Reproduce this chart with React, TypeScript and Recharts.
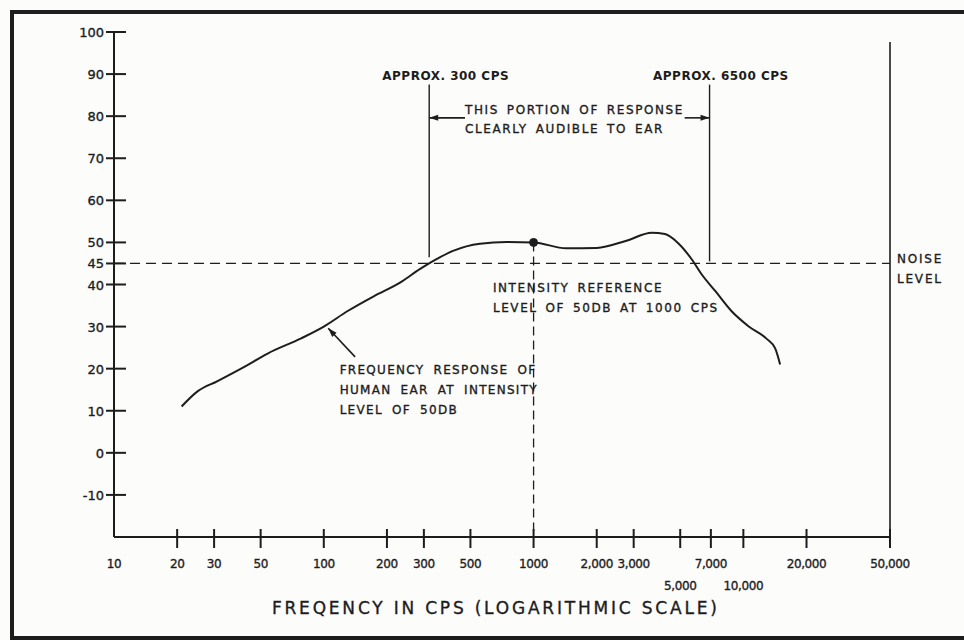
import { Line, LineChart, ReferenceDot, ReferenceLine, XAxis, YAxis } from "recharts";

// curve: frequency (cps) vs level (db)
const freqs = [21, 25, 31, 42, 54, 78, 100, 130, 173, 232, 288, 333, 413, 555, 745, 1000, 1430, 2000, 2770, 3660, 4230, 4920, 5670, 6310, 7360, 8770, 10570, 12850, 14180, 14970];
const levels = [11, 14.6, 17, 20.5, 23.6, 27.2, 30, 33.7, 37.2, 40.5, 43.7, 45.6, 48, 49.7, 50.1, 50, 48.6, 48.7, 50.4, 52.3, 52, 49.7, 46, 42.5, 38.4, 33.7, 30.1, 27.2, 24.8, 21];

const xTicks = [10, 20, 30, 50, 100, 200, 300, 500, 1000, 2000, 3000, 5000, 7000, 10000, 20000, 50000];
const xTickLabels = ["10", "20", "30", "50", "100", "200", "300", "500", "1000", "2,000", "3,000", "5,000", "7,000", "10,000", "20,000", "50,000"];
const lowerRowTicks = [5000, 10000];
const yTicks = [-10, 0, 10, 20, 30, 40, 45, 50, 60, 70, 80, 90, 100];

const NOISE_LEVEL = 45;
const REF_FREQ = 1000;
const REF_LEVEL = 50;
const AUDIBLE_LOW = 318;
const AUDIBLE_HIGH = 6900;

const data = freqs.map((f, i) => ({ freq: f, db: levels[i] }));

const INK = "#1d1d1d";
const FONT = "'DejaVu Sans', sans-serif";
// hand lettering is a bit heavier than the font, fake it with a thin stroke
const heavy = { stroke: INK, strokeWidth: 0.35 };

function XTick(props: any) {
  const { x, y, payload } = props;
  const v = payload.value as number;
  const label = xTickLabels[xTicks.indexOf(v)];
  const low = lowerRowTicks.includes(v);
  return (
    <g>
      {v !== 10 && <line x1={x} x2={x} y1={y - 8} y2={y + 11} stroke={INK} strokeWidth={2} />}
      <text x={x} y={y + (low ? 53 : 31)} textAnchor="middle" fontFamily={FONT} fontSize={12} fill={INK} letterSpacing={-0.4} {...heavy}>
        {label}
      </text>
    </g>
  );
}

function YTick(props: any) {
  const { x, y, payload } = props;
  return (
    <g>
      <line x1={x - 8} x2={x + 12} y1={y} y2={y} stroke={INK} strokeWidth={2} />
      <text x={x - 10} y={y + 5} textAnchor="end" fontFamily={FONT} fontSize={13} fill={INK} {...heavy}>
        {payload.value}
      </text>
    </g>
  );
}

function arrowShape(p: any) {
  const { x1, y1, x2, y2 } = p;
  const a = Math.atan2(y2 - y1, x2 - x1);
  const len = 9;
  const w = 3;
  const bx = x2 - len * Math.cos(a);
  const by = y2 - len * Math.sin(a);
  const nx = -Math.sin(a) * w;
  const ny = Math.cos(a) * w;
  return (
    <g>
      <line x1={x1} y1={y1} x2={x2} y2={y2} stroke={INK} strokeWidth={1.6} />
      <polygon points={`${x2},${y2} ${bx + nx},${by + ny} ${bx - nx},${by - ny}`} fill={INK} />
    </g>
  );
}

function note(lines: string[], opts: { dx?: number; gap?: number; size?: number; spacing?: number; words?: number; weight?: string } = {}) {
  const { dx = 0, gap = 20, size = 12, spacing = 1.6, words = 3, weight = "normal" } = opts;
  return (p: any) => (
    <text
      x={p.cx + dx}
      y={p.cy}
      fontFamily={FONT}
      fontSize={size}
      fill={INK}
      letterSpacing={spacing}
      wordSpacing={words}
      fontWeight={weight}
      {...(weight === "normal" ? heavy : {})}
    >
      {lines.map((l, i) => (
        <tspan key={i} x={p.cx + dx} dy={i === 0 ? 0 : gap}>
          {l}
        </tspan>
      ))}
    </text>
  );
}

function AxisTitle(props: any) {
  const { viewBox } = props;
  return (
    <text x={viewBox.x + viewBox.width * 0.492} y={viewBox.y + 77} textAnchor="middle" fontFamily={FONT} fontSize={17} letterSpacing={2.8} fill={INK} {...heavy}>
      FREQENCY IN CPS (LOGARITHMIC SCALE)
    </text>
  );
}

export default function App() {
  return (
    <div style={{ position: "relative", width: 964, height: 640, overflow: "hidden", background: "#fcfcfb" }}>
      <style>{"body{margin:0}"}</style>
      <div
        style={{
          position: "absolute",
          left: 10,
          top: 10,
          width: 1000,
          height: 630,
          boxSizing: "border-box",
          borderTop: `4px solid ${INK}`,
          borderLeft: `4px solid ${INK}`,
          borderBottom: `4px solid ${INK}`,
        }}
      />
      <div style={{ position: "absolute", left: 0, top: 0 }}>
        <LineChart width={964} height={640} data={data} margin={{ top: 32, right: 74, bottom: 73, left: 54 }}>
          <XAxis
            dataKey="freq"
            type="number"
            scale="log"
            domain={[10, 50000]}
            ticks={xTicks}
            allowDataOverflow
            height={30}
            tickSize={0}
            tickMargin={0}
            tickLine={false}
            axisLine={{ stroke: INK, strokeWidth: 2 }}
            tick={XTick}
            interval={0}
            label={<AxisTitle />}
          />
          <YAxis
            type="number"
            domain={[-20, 100]}
            ticks={yTicks}
            width={60}
            tickSize={0}
            tickMargin={0}
            tickLine={false}
            axisLine={{ stroke: INK, strokeWidth: 2 }}
            tick={YTick}
            interval={0}
          />
          <ReferenceLine y={NOISE_LEVEL} stroke={INK} strokeWidth={1.3} strokeDasharray="10 6" />
          <ReferenceLine segment={[{ x: 50000, y: -20 }, { x: 50000, y: 97.6 }]} stroke={INK} strokeWidth={1.6} />
          <ReferenceLine segment={[{ x: AUDIBLE_LOW, y: 87.5 }, { x: AUDIBLE_LOW, y: 46.5 }]} stroke={INK} strokeWidth={1.4} />
          <ReferenceLine segment={[{ x: AUDIBLE_HIGH, y: 87.5 }, { x: AUDIBLE_HIGH, y: 45.5 }]} stroke={INK} strokeWidth={1.4} />
          <ReferenceLine segment={[{ x: REF_FREQ, y: REF_LEVEL }, { x: REF_FREQ, y: -20 }]} stroke={INK} strokeWidth={1.3} strokeDasharray="9 5" />
          <ReferenceLine segment={[{ x: 471, y: 79.6 }, { x: AUDIBLE_LOW, y: 79.6 }]} shape={arrowShape} />
          <ReferenceLine segment={[{ x: 5250, y: 79.6 }, { x: AUDIBLE_HIGH, y: 79.6 }]} shape={arrowShape} />
          <ReferenceLine segment={[{ x: 141, y: 22.8 }, { x: 105, y: 29.6 }]} shape={arrowShape} />
          <Line dataKey="db" type="monotone" stroke={INK} strokeWidth={2} dot={false} isAnimationActive={false} />
          <ReferenceDot x={REF_FREQ} y={REF_LEVEL} r={4} fill={INK} stroke={INK} />
          <ReferenceDot x={190} y={88.6} shape={note(["APPROX. 300 CPS"], { spacing: 0.5, words: 0, weight: "bold" })} />
          <ReferenceDot x={3710} y={88.6} shape={note(["APPROX. 6500 CPS"], { spacing: 0.5, words: 0, weight: "bold" })} />
          <ReferenceDot x={471} y={80.5} shape={note(["THIS PORTION OF RESPONSE", "CLEARLY AUDIBLE TO EAR"], { gap: 19, words: 2.5 })} />
          <ReferenceDot x={640} y={38.2} shape={note(["INTENSITY REFERENCE", "LEVEL OF 50DB AT 1000 CPS"], { words: 2.5 })} />
          <ReferenceDot x={119} y={18.7} shape={note(["FREQUENCY RESPONSE OF", "HUMAN EAR AT INTENSITY", "LEVEL OF 50DB"], { spacing: 1.3, words: 4 })} />
          <ReferenceDot x={50000} y={NOISE_LEVEL} shape={note(["NOISE", "LEVEL"], { dx: 7, spacing: 1.8 })} />
        </LineChart>
      </div>
    </div>
  );
}
